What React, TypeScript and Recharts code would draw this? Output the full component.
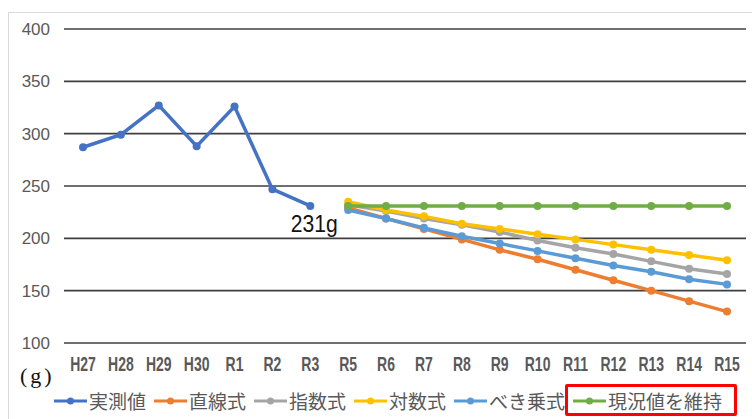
import React from 'react';
import { LineChart, Line, XAxis, YAxis, CartesianGrid } from 'recharts';

const categories = ['H27', 'H28', 'H29', 'H30', 'R1', 'R2', 'R3', 'R5', 'R6', 'R7', 'R8', 'R9', 'R10', 'R11', 'R12', 'R13', 'R14', 'R15'];
const actual = [287, 299, 327, 288, 326, 247, 231, null, null, null, null, null, null, null, null, null, null, null];
const linear = [null, null, null, null, null, null, null, 229, 219, 209, 199, 189, 180, 170, 160, 150, 140, 130];
const exponential = [null, null, null, null, null, null, null, 232, 226, 219, 213, 206, 198, 191, 185, 178, 171, 166];
const logarithmic = [null, null, null, null, null, null, null, 235, 227, 221, 214, 209, 204, 199, 194, 189, 184, 179];
const power = [null, null, null, null, null, null, null, 227, 219, 210, 202, 195, 188, 181, 174, 168, 161, 156];
const keepCurrent = [null, null, null, null, null, null, null, 231, 231, 231, 231, 231, 231, 231, 231, 231, 231, 231];
const yTicks = [100, 150, 200, 250, 300, 350, 400];

const series = [
  { key: 'actual', name: '実測値', color: '#4472C4', values: actual },
  { key: 'linear', name: '直線式', color: '#ED7D31', values: linear },
  { key: 'exponential', name: '指数式', color: '#A5A5A5', values: exponential },
  { key: 'logarithmic', name: '対数式', color: '#FFC000', values: logarithmic },
  { key: 'power', name: 'べき乗式', color: '#5B9BD5', values: power },
  { key: 'keepCurrent', name: '現況値を維持', color: '#70AD47', values: keepCurrent },
];

const rows = categories.map((name, i) => {
  const row: Record<string, string | number | null> = { name };
  series.forEach((s) => { row[s.key] = s.values[i]; });
  return row;
});

const sans = "'Liberation Sans', Arial, sans-serif";
const cjk = "'Noto Sans CJK JP', 'Noto Sans', sans-serif";
const lastActual = categories.indexOf('R3');

// condensed look: squeeze glyphs horizontally
function XTick(props: any) {
  const { x, y, payload } = props;
  return (
    <text transform={`translate(${x},${y}) scale(0.7,1)`} textAnchor="middle" dy="0.71em" fontSize={20} fontWeight={600} fill="#595959" fontFamily={sans}>
      {payload.value}
    </text>
  );
}

function YTick(props: any) {
  const { x, y, payload } = props;
  return (
    <text x={x} y={y} textAnchor="end" dy="0.355em" fontSize={17} fill="#595959" fontFamily={sans}>
      {payload.value}
    </text>
  );
}

function ActualLabel(props: any) {
  const { x, y, index, value } = props;
  if (index !== lastActual) return null;
  return (
    <text transform={`translate(${x + 4},${y + 26}) scale(0.88,1)`} textAnchor="middle" fontSize={24} fill="#111" fontFamily={sans}>
      {`${value}g`}
    </text>
  );
}

export default function App() {
  return (
    <div style={{ position: 'absolute', left: 0, top: 0, width: 752, height: 419, overflow: 'hidden', background: '#fff' }}>
      <div style={{ position: 'absolute', left: 8, top: 12, width: 800, height: 500, border: '1px solid #d9d9d9' }} />
      <div style={{ position: 'absolute', left: 0, top: 0 }}>
        <LineChart width={752} height={419} data={rows} margin={{ top: 29, right: 6, bottom: 46, left: 8 }}>
          <CartesianGrid vertical={false} stroke="#3f3f3f" strokeWidth={1.6} />
          <XAxis
            dataKey="name"
            interval={0}
            padding={{ left: 19, right: 19 }}
            tickLine={false}
            axisLine={false}
            tickSize={0}
            tickMargin={14}
            height={30}
            tick={<XTick />}
          />
          <YAxis
            domain={[100, 400]}
            ticks={yTicks}
            width={56}
            tickLine={false}
            axisLine={false}
            tickSize={0}
            tickMargin={14}
            tick={<YTick />}
          />
          {series.map((s) => (
            <Line
              key={s.key}
              type="linear"
              dataKey={s.key}
              stroke={s.color}
              strokeWidth={3.5}
              dot={{ r: 4, fill: s.color, stroke: s.color, strokeWidth: 0 }}
              activeDot={false}
              isAnimationActive={false}
              label={s.key === 'actual' ? <ActualLabel /> : false}
            />
          ))}
        </LineChart>
      </div>
      <div style={{ position: 'absolute', left: 20, top: 363, fontSize: 22, fontFamily: "'Liberation Serif', serif", color: '#111', letterSpacing: 3 }}>
        (g)
      </div>
      <div style={{ position: 'absolute', left: 53, top: 385, height: 32, display: 'flex', alignItems: 'center', gap: 7 }}>
        {series.map((s) => (
          <div key={s.key} style={{ display: 'flex', alignItems: 'center' }}>
            <svg width={35} height={12}>
              <line x1={1} y1={6} x2={34} y2={6} stroke={s.color} strokeWidth={3} />
              <circle cx={17.5} cy={6} r={3.5} fill={s.color} />
            </svg>
            <span style={{ fontSize: 19, fontFamily: cjk, color: '#595959', marginLeft: 1, lineHeight: '32px' }}>{s.name}</span>
          </div>
        ))}
      </div>
      <div style={{ position: 'absolute', left: 565, top: 384, width: 172, height: 32, boxSizing: 'border-box', border: '3px solid #FF0000', borderRadius: 2 }} />
    </div>
  );
}
